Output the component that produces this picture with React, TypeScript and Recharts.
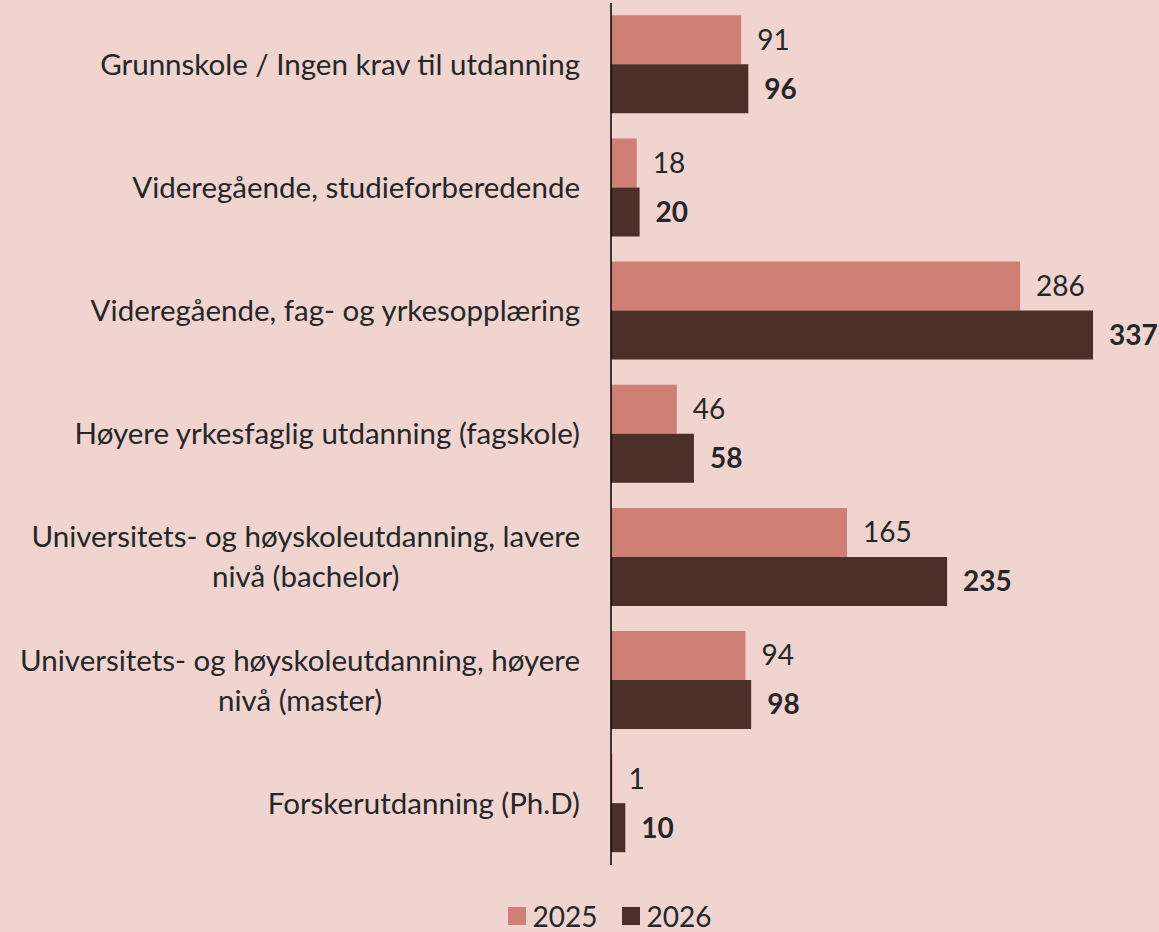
import React from 'react';
import { BarChart, Bar, XAxis, YAxis, Legend, LabelList } from 'recharts';

const categories: string[][] = [
  ['Grunnskole / Ingen krav til utdanning'],
  ['Videregående, studieforberedende'],
  ['Videregående, fag- og yrkesopplæring'],
  ['Høyere yrkesfaglig utdanning (fagskole)'],
  ['Universitets- og høyskoleutdanning, lavere', 'nivå (bachelor)'],
  ['Universitets- og høyskoleutdanning, høyere', 'nivå (master)'],
  ['Forskerutdanning (Ph.D)'],
];
const values2025 = [91, 18, 286, 46, 165, 94, 1];
const values2026 = [96, 20, 337, 58, 235, 98, 10];
const seriesNames = ['2025', '2026'];

const data = categories.map((c, i) => ({
  name: c.join('\n'),
  v2025: values2025[i],
  v2026: values2026[i],
}));

const FONT = 'Lato, "Noto Sans", sans-serif';
const TEXT = '#262626';
const C2025 = '#CF7F73';
const C2026 = '#4B2F29';
const BG = '#EFD4D0';
const FS = 28;
const CAT_FS = 29.5;

let ctx: CanvasRenderingContext2D | null = null;
const measure = (s: string) => {
  if (!ctx) {
    const c = document.createElement('canvas');
    ctx = c.getContext('2d');
  }
  if (!ctx) return s.length * 13;
  ctx.font = `${CAT_FS}px ${FONT}`;
  return ctx.measureText(s).width;
};

const CategoryTick = (props: any) => {
  const { x, y, payload } = props;
  const lines: string[] = String(payload.value).split('\n');
  const right = x - 23;
  const lineH = 40;
  if (lines.length === 1) {
    return (
      <text x={right} y={y} dy="0.35em" textAnchor="end" fontSize={CAT_FS} fontFamily={FONT} fill={TEXT}>
        {lines[0]}
      </text>
    );
  }
  const maxW = Math.max(...lines.map(measure));
  const cx = right - maxW / 2;
  const startY = y - ((lines.length - 1) * lineH) / 2;
  return (
    <text textAnchor="middle" fontSize={CAT_FS} fontFamily={FONT} fill={TEXT}>
      {lines.map((l, i) => (
        <tspan key={i} x={cx} y={startY + i * lineH} dy="0.35em">
          {l}
        </tspan>
      ))}
    </text>
  );
};

const LegendContent = (props: any) => {
  const { payload } = props;
  return (
    <div style={{ display: 'flex', justifyContent: 'center', alignItems: 'center', fontFamily: FONT, fontSize: FS, color: TEXT, lineHeight: '28px', height: 28 }}>
      {payload.map((p: any, i: number) => (
        <div key={i} style={{ display: 'flex', alignItems: 'center', marginLeft: i ? 24 : 0 }}>
          <span style={{ display: 'inline-block', width: 18, height: 18, background: p.color, marginRight: 7 }} />
          <span>{p.value}</span>
        </div>
      ))}
    </div>
  );
};

export default function App() {
  return (
    <div style={{ width: 1159, height: 932, background: BG, overflow: 'hidden' }}>
      <style>{`html,body{margin:0;padding:0;background:${BG};}`}</style>
      <BarChart
        width={1159}
        height={932}
        data={data}
        layout="vertical"
        margin={{ top: 3, right: 66, bottom: 39, left: 0 }}
        barCategoryGap="10%"
        barGap={0}
      >
        <XAxis type="number" domain={[0, 337]} hide />
        <YAxis
          type="category"
          dataKey="name"
          width={611}
          axisLine={{ stroke: '#000', strokeWidth: 1.5 }}
          tickLine={false}
          tick={<CategoryTick />}
          interval={0}
        />
        <Legend
          verticalAlign="bottom"
          content={<LegendContent />}
          wrapperStyle={{ top: 902, left: 30, width: 1159, height: 28 }}
        />
        <Bar dataKey="v2025" name={seriesNames[0]} fill={C2025} isAnimationActive={false}>
          <LabelList dataKey="v2025" position="right" offset={16} fontSize={FS} fontFamily={FONT} fill={TEXT} />
        </Bar>
        <Bar dataKey="v2026" name={seriesNames[1]} fill={C2026} isAnimationActive={false}>
          <LabelList dataKey="v2026" position="right" offset={16} fontSize={FS} fontFamily={FONT} fontWeight={700} fill={TEXT} />
        </Bar>
      </BarChart>
    </div>
  );
}
